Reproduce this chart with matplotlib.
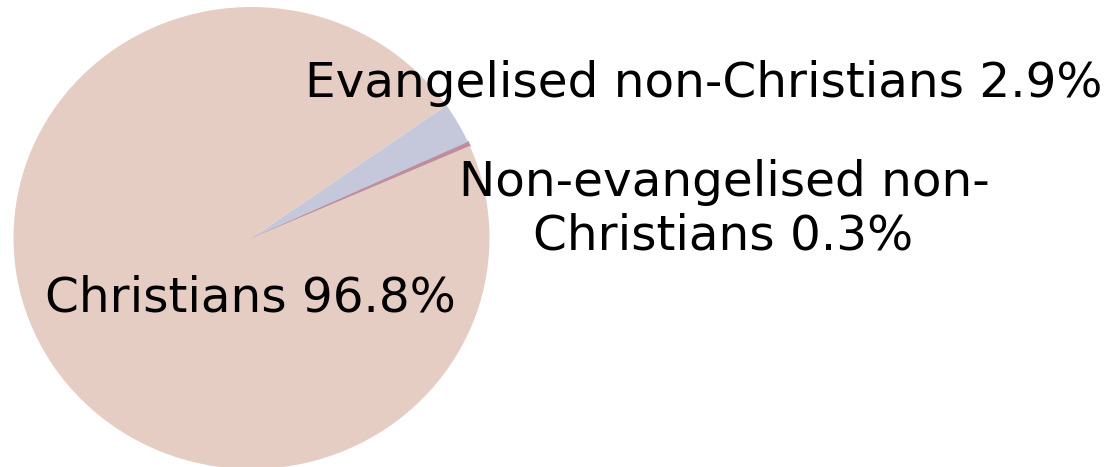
import matplotlib
matplotlib.use("Agg")
import matplotlib.pyplot as plt

# Data
labels = ["Non-evangelised non-\nChristians", "Evangelised non-Christians", "Christians"]
values = [0.3, 2.9, 96.8]
colors = ["#BF8C9D", "#C5C8DA", "#E6CDC3"]

W, H = 1120, 467
fig = plt.figure(figsize=(W / 100, H / 100), dpi=100)
fig.patch.set_facecolor("white")

# Pie axes (slightly elliptical, as in the reference)
cx, cy, rx, ry = 251.5, 238.0, 238.0, 231.0
ax = fig.add_axes([(cx - rx) / W, (H - (cy + ry)) / H, 2 * rx / W, 2 * ry / H])
wedges, _ = ax.pie(values, colors=colors, startangle=23.5, counterclock=True,
                   radius=1, wedgeprops=dict(linewidth=0))
wedges[0].set_edgecolor(colors[0])
wedges[0].set_linewidth(1.2)
ax.set_xlim(-1, 1)
ax.set_ylim(-1, 1)
ax.set_aspect("auto")
ax.axis("off")

# Overlay axes in pixel coordinates for the labels
ov = fig.add_axes([0, 0, 1, 1])
ov.set_xlim(0, W)
ov.set_ylim(H, 0)
ov.axis("off")
ov.patch.set_alpha(0)

fs = 34.9
font = ["DejaVu Sans"]
ov.text(45, 311, f"{labels[2]} {values[2]}%", fontsize=fs, family=font,
        ha="left", va="baseline", color="black")
ov.text(305, 97, f"{labels[1]} {values[1]}%", fontsize=fs, family=font,
        ha="left", va="baseline", color="black")
l1, l2 = labels[0].split("\n")
ov.text(724, 196, l1, fontsize=fs, family=font,
        ha="center", va="baseline", color="black")
ov.text(723, 250, f"{l2} {values[0]}%", fontsize=fs, family=font,
        ha="center", va="baseline", color="black")

fig.savefig("out.png", dpi=100, facecolor="white")
